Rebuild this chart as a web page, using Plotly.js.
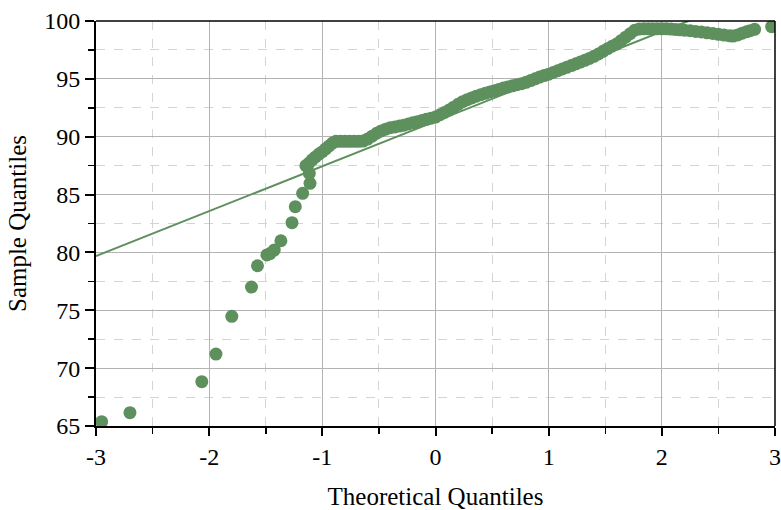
<!DOCTYPE html>
<html>
<head>
<meta charset="utf-8">
<script src="https://cdn.plot.ly/plotly-3.0.1.min.js"></script>
<style>html,body{margin:0;padding:0;background:#fff;}#chart{width:781px;height:510px;}</style>
</head>
<body>
<div id="chart"></div>
<script>
// Theoretical quantiles (x) and sample quantiles (y)
const theoretical = [
  -2.95, -2.70, -2.065, -1.94, -1.80, -1.626, -1.573, -1.49, -1.463, -1.425,
  -1.366, -1.268, -1.239, -1.174, -1.109, -1.115, -1.145,
  -1.12, -1.09, -1.06, -1.03, -1.00, -0.97, -0.94, -0.91, -0.88,
  -0.84, -0.80, -0.76, -0.72, -0.68, -0.64,
  -0.60, -0.56, -0.52, -0.48, -0.44, -0.40, -0.36, -0.32, -0.28, -0.24,
  -0.20, -0.16, -0.12, -0.08, -0.04, 0.00, 0.04, 0.08, 0.12, 0.16,
  0.20, 0.24, 0.28, 0.32, 0.36, 0.40, 0.44, 0.48, 0.52, 0.56,
  0.60, 0.64, 0.68, 0.72, 0.76, 0.80, 0.84, 0.88, 0.92, 0.96,
  1.00, 1.04, 1.08, 1.12, 1.16, 1.20, 1.24, 1.28, 1.32, 1.36,
  1.40, 1.44, 1.48, 1.52, 1.56, 1.60, 1.64, 1.68, 1.72, 1.76,
  1.80, 1.84, 1.88, 1.92, 1.96, 2.00, 2.04, 2.08, 2.12, 2.16,
  2.20, 2.25, 2.30, 2.35, 2.40, 2.45, 2.50, 2.55, 2.60, 2.63,
  2.67, 2.71, 2.75, 2.78, 2.82, 2.97
];
const sample = [
  65.37, 66.15, 68.83, 71.22, 74.48, 77.01, 78.85, 79.78, 79.90, 80.20,
  81.01, 82.57, 83.95, 85.11, 85.97, 86.84, 87.50,
  87.70, 88.00, 88.25, 88.50, 88.70, 88.95, 89.20, 89.45, 89.60,
  89.60, 89.60, 89.60, 89.60, 89.60, 89.62,
  89.80, 90.05, 90.30, 90.50, 90.65, 90.78, 90.85, 90.92, 91.00, 91.10,
  91.20, 91.30, 91.40, 91.50, 91.60, 91.70, 91.90, 92.10, 92.30, 92.55,
  92.80, 93.03, 93.20, 93.35, 93.50, 93.63, 93.75, 93.87, 93.98, 94.08,
  94.20, 94.30, 94.40, 94.50, 94.58, 94.70, 94.85, 95.00, 95.15, 95.28,
  95.40, 95.55, 95.70, 95.85, 96.00, 96.15, 96.30, 96.45, 96.60, 96.77,
  96.95, 97.15, 97.38, 97.60, 97.82, 98.01, 98.30, 98.60, 98.90, 99.20,
  99.30, 99.32, 99.32, 99.32, 99.32, 99.32, 99.32, 99.30, 99.27, 99.24,
  99.20, 99.16, 99.10, 99.05, 98.98, 98.93, 98.85, 98.78, 98.72, 98.70,
  98.80, 98.95, 99.08, 99.16, 99.28, 99.51
];
// Reference line: intercept and slope
const lineX = [-3, 3];
const lineIntercept = 91.33;
const lineSlope = 3.88;

const xTickVals = [-3, -2, -1, 0, 1, 2, 3];
const xTickText = ["-3", "-2", "-1", "0", "1", "2", "3"];
const yTickVals = [65, 70, 75, 80, 85, 90, 95, 100];
const yTickText = ["65", "70", "75", "80", "85", "90", "95", "100"];

const green = "#5e905e";
const serif = "Liberation Serif, Times New Roman, serif";

const traces = [
  {
    x: theoretical, y: sample, type: "scatter", mode: "markers",
    marker: {color: green, size: 13, line: {width: 0}},
    cliponaxis: true, hoverinfo: "x+y"
  },
  {
    x: lineX, y: lineX.map(v => lineIntercept + lineSlope * v),
    type: "scatter", mode: "lines",
    line: {color: green, width: 2}
  }
];

const layout = {
  width: 781, height: 510,
  margin: {l: 96, r: 6, t: 21, b: 84},
  paper_bgcolor: "#fff", plot_bgcolor: "#fff",
  showlegend: false,
  font: {family: serif, color: "#000", size: 24},
  xaxis: {
    range: [-3, 3],
    tickvals: xTickVals, ticktext: xTickText,
    ticks: "outside", ticklen: 8, tickwidth: 2, tickcolor: "#000",
    showline: true, linecolor: "#000", linewidth: 2, mirror: false,
    showgrid: true, gridcolor: "#b3b3b3", gridwidth: 1,
    zeroline: false,
    tickfont: {family: serif, size: 24, color: "#000"},
    minor: {dtick: 0.5, ticks: "outside", ticklen: 6, tickwidth: 1.5, tickcolor: "#000",
            showgrid: true, gridcolor: "#d4d4d4", griddash: "dash", gridwidth: 1},
    title: {text: "Theoretical Quantiles", font: {family: serif, size: 25, color: "#000"}, standoff: 22}
  },
  yaxis: {
    range: [65, 100],
    tickvals: yTickVals, ticktext: yTickText,
    ticks: "outside", ticklen: 9, tickwidth: 2, tickcolor: "#000",
    showline: true, linecolor: "#000", linewidth: 2, mirror: false,
    showgrid: true, gridcolor: "#b3b3b3", gridwidth: 1,
    zeroline: false,
    tickfont: {family: serif, size: 24, color: "#000"},
    minor: {dtick: 2.5, ticks: "outside", ticklen: 6, tickwidth: 1.5, tickcolor: "#000",
            showgrid: true, gridcolor: "#d4d4d4", griddash: "dash", gridwidth: 1},
    title: {text: "Sample Quantiles", font: {family: serif, size: 25, color: "#000"}, standoff: 10}
  },
  shapes: [
    {type: "line", xref: "paper", yref: "paper", x0: 0, x1: 1, y0: 1, y1: 1, line: {color: "#000", width: 1.5}},
    {type: "line", xref: "paper", yref: "paper", x0: 1, x1: 1, y0: 0, y1: 1, line: {color: "#000", width: 1.5}}
  ]
};

Plotly.newPlot("chart", traces, layout, {displayModeBar: false, staticPlot: true});
</script>
</body>
</html>
